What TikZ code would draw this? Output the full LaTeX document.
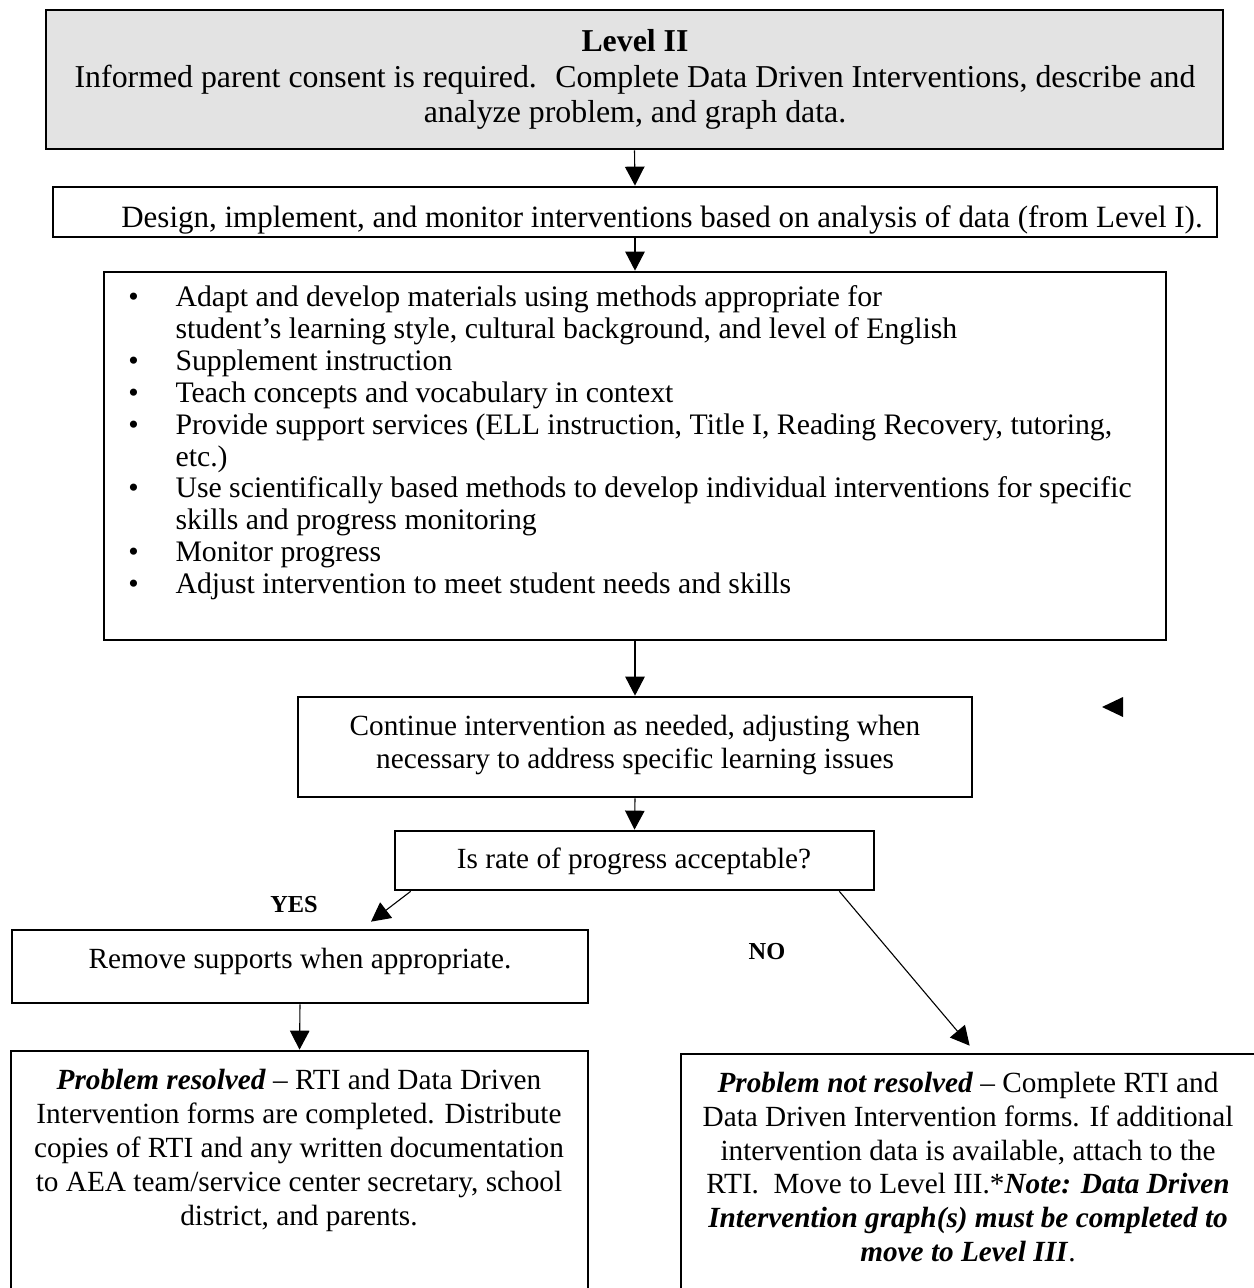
\documentclass[tikz,border=0pt]{standalone}
\usepackage{fontspec}
\setmainfont{Liberation Serif}
\usetikzlibrary{arrows.meta,fit,calc}

\tikzset{
	box/.style={draw, line width=1.1pt, inner sep=0pt},
	txt/.style={align=center, inner sep=0pt, anchor=base, font=\fontsize{12}{13.8}\selectfont},
	pfeil/.style={-{Triangle[length=7.8pt,width=8pt]}, line width=0.45pt},
	antwort/.style={anchor=base, inner sep=0pt, font=\fontsize{10}{12}\selectfont\bfseries}
}

\begin{document}
\begin{tikzpicture}[x=0.41pt, y=-0.41pt]
		\useasboundingbox (0,0) rectangle (1254,1288);
		%Kaesten zeichnen
		\node[box, fill=black!11, fit={(46,10) (1223,149)}] (lvl) {};
		\node[box, fit={(53,187) (1217,237)}] (design) {};
		\node[box, fit={(104,272) (1166,640)}] (adapt) {};
		\node[box, fit={(298,697) (972,797)}] (cont) {};
		\node[box, fit={(395,831) (874,890)}] (rate) {};
		\node[box, fit={(12,930) (588,1003)}] (remove) {};
		\node[box, fit={(11,1051) (588,1310)}] (resolved) {};
		\node[box, fit={(681,1054) (1264,1310)}] (notres) {};
		
		%Texte (Grundlinie der letzten Zeile)
		\node[txt, font=\fontsize{13.05}{14.6}\selectfont] (lvltxt) at (635,123)
			{\textbf{Level II}\\Informed parent consent is required.~ Complete Data Driven Interventions, describe and\\analyze problem, and graph data.};
		\begin{scope}
			\clip (design.north west) rectangle ($(design.south east)+(0,-4)$);
			\node[txt, font=\fontsize{12.7}{14}\selectfont] (designtxt) at (662,228) {Design, implement, and monitor interventions based on analysis of data (from Level I).};
		\end{scope}
		\node[anchor=base west, inner sep=0pt, font=\fontsize{12.2}{13.04}\selectfont] (liste) at (128,307)
			{\begin{tabular}[t]{@{}p{19.3pt}@{}l@{}}
				\textbullet & Adapt and develop materials using methods appropriate for\\
				 & student’s learning style, cultural background, and level of English\\
				\textbullet & Supplement instruction\\
				\textbullet & Teach concepts and vocabulary in context\\
				\textbullet & Provide support services (ELL instruction, Title I, Reading Recovery, tutoring,\\
				 & etc.)\\
				\textbullet & Use scientifically based methods to develop individual interventions for specific\\
				 & skills and progress monitoring\\
				\textbullet & Monitor progress\\
				\textbullet & Adjust intervention to meet student needs and skills
			\end{tabular}};
		\node[txt, font=\fontsize{12}{13.5}\selectfont] (conttxt) at (635,768)
			{Continue intervention as needed, adjusting when\\necessary to address specific learning issues};
		\node[txt] (ratetxt) at (634,868) {Is rate of progress acceptable?};
		\node[txt] (removetxt) at (300,968) {Remove supports when appropriate.};
		\node[txt, font=\fontsize{12}{13.86}\selectfont] (resolvedtxt) at (299,1225)
			{\textbf{\textit{Problem resolved}} – RTI and Data Driven\\Intervention forms are completed. Distribute\\copies of RTI and any written documentation\\to AEA team/service center secretary, school\\district, and parents.};
		\node[txt] (notrestxt) at (968,1261)
			{\textbf{\textit{Problem not resolved}} – Complete RTI and\\Data Driven Intervention forms. If additional\\intervention data is available, attach to the\\RTI.~ Move to Level III.*\textbf{\textit{Note: Data Driven}}\\\textbf{\textit{Intervention graph(s) must be completed to}}\\\textbf{\textit{move to Level III}}.};
		\node[antwort] (yes) at (294,912) {YES};
		\node[antwort] (no) at (767,959) {NO};
		
		%Pfeile
		\draw[pfeil] (lvl.south) -- (design.north);
		\draw[pfeil] (design.south) -- (adapt.north);
		\draw[pfeil] (adapt.south) -- (cont.north);
		\draw[pfeil] (cont.south) -- (rate.north);
		\draw[pfeil] ($(rate.south west)+(17,0)$) -- ($(remove.north)+(71,-7)$);
		\draw[pfeil] ($(rate.south east)+(-36,0)$) -- ($(notres.north west)+(290,-7)$);
		\draw[pfeil] (remove.south) -- (resolved.north);
		\fill (1102,707) -- (1123,697) -- (1123,717) -- cycle;
	\end{tikzpicture}
\end{document}
